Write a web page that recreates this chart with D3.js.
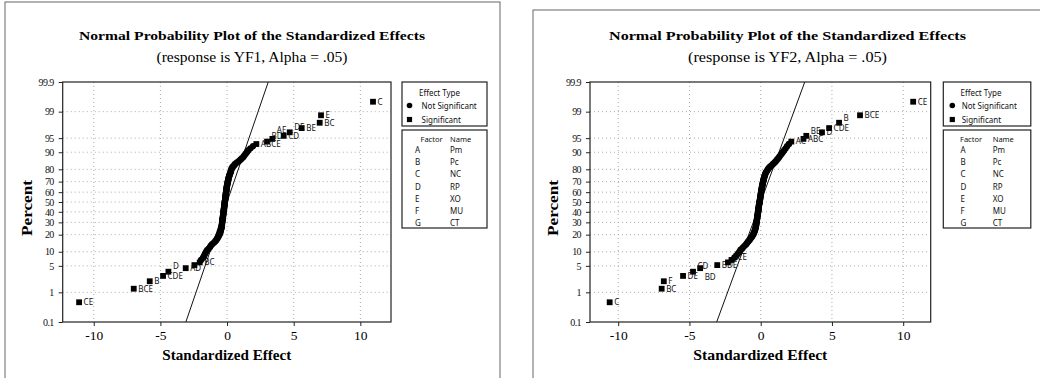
<!DOCTYPE html>
<html><head><meta charset="utf-8">
<script src="https://cdn.jsdelivr.net/npm/d3@7"></script>
<style>
html,body{margin:0;padding:0;background:#fff;}
svg{display:block;}
</style></head>
<body>
<svg id="chart" width="1040" height="378"></svg>
<script>
// ---------------- DATA ----------------
const percentTicks = [0.1, 1, 5, 10, 20, 30, 40, 50, 60, 70, 80, 90, 95, 99, 99.9];
const percentTickLabels = ["0.1","1","5","10","20","30","40","50","60","70","80","90","95","99","99.9"];
const effectTicks = [-10, -5, 0, 5, 10];

const factorCodes = ["A","B","C","D","E","F","G"];
const factorNames = ["Pm","Pc","NC","RP","XO","MU","CT"];

// YF1 – significant effects and their term labels
const sigYF1 = [-11.1, -7.0, -5.8, -4.8, -4.4, -3.1, -2.45, -2.05, 2.2, 3.0, 3.4, 4.25, 4.7, 5.6, 6.95, 7.05, 10.95];
const sigLabelsYF1 = ["CE","BCE","B","CDE","D","AD","","BC","ABCE","BD","AE","CD","DE","BE","BC","E","C"];
// YF1 – non-significant standardized effects
const nonSigYF1 = [
 -1.95,-1.8,-1.72,-1.65,-1.58,-1.5,-1.38,-1.28,-1.22,-1.12,-1.0,-0.9,-0.82,-0.76,-0.70,-0.66,-0.61,-0.57,-0.53,-0.51,-0.49,-0.47,-0.45,-0.43,-0.41,-0.40,
 -0.39,-0.385,-0.38,-0.37,-0.36,-0.355,-0.35,-0.34,-0.33,-0.32,-0.31,-0.30,-0.295,-0.29,-0.28,
 -0.27,-0.26,-0.255,-0.25,-0.24,-0.23,-0.225,-0.22,-0.21,-0.2,-0.195,-0.19,-0.18,-0.175,-0.17,-0.16,-0.15,
 -0.14,-0.135,-0.13,-0.12,-0.115,-0.11,-0.1,-0.09,-0.085,-0.08,-0.07,-0.06,-0.05,-0.045,-0.04,-0.03,-0.02,
 -0.01,0.0,0.01,0.03,0.04,0.05,0.07,0.08,0.1,0.11,0.13,0.15,0.17,0.19,0.22,
 0.25,0.28,0.3,0.32,0.35,
 0.4,0.47,0.55,0.62,
 0.75,0.88,1.0,1.1,
 1.22,1.3,1.4,1.5,1.6,
 1.75,1.95
];

// YF2 – significant effects and their term labels
const sigYF2 = [-10.6, -6.95, -6.8, -5.45, -4.75, -4.25, -3.05, -2.3, -2.05, 2.15, 3.0, 3.2, 4.3, 4.8, 5.5, 6.97, 10.7];
const sigLabelsYF2 = ["C","BC","F","DE","CD","BD","BDE","ACE","AE","AC","ABC","BE","D","CDE","B","BCE","CE"];
// YF2 – non-significant standardized effects
const nonSigYF2 = [
 -1.85,-1.72,-1.6,-1.5,-1.42,-1.32,-1.22,-1.12,-1.02,-0.95,-0.88,-0.8,-0.74,-0.68,-0.62,-0.57,-0.53,-0.49,-0.46,-0.43,-0.41,-0.39,-0.37,-0.35,-0.34,
 -0.33,-0.32,-0.31,-0.3,-0.29,-0.28,-0.27,-0.26,-0.255,-0.25,-0.24,-0.23,-0.22,-0.21,-0.2,
 -0.19,-0.185,-0.18,-0.17,-0.16,-0.155,-0.15,-0.14,-0.13,-0.125,-0.12,-0.11,-0.1,-0.09,-0.08,-0.07,-0.06,
 -0.05,-0.04,-0.035,-0.03,-0.02,-0.01,0.0,0.01,0.015,0.02,0.03,0.04,0.05,0.06,0.07,0.08,0.09,
 0.1,0.11,0.12,0.14,0.15,0.16,0.18,0.19,0.21,0.22,0.24,0.26,0.28,0.3,0.32,
 0.36,0.4,0.45,0.5,0.55,
 0.62,0.7,0.8,0.88,
 0.98,1.06,1.14,1.22,
 1.3,1.38,1.47,1.56,1.65,
 1.75,1.85,1.98
];

// ---------------- HELPERS ----------------
function probit(p){
  const a=[-3.969683028665376e+01,2.209460984245205e+02,-2.759285104469687e+02,1.383577518672690e+02,-3.066479806614716e+01,2.506628277459239e+00];
  const b=[-5.447609879822406e+01,1.615858368580409e+02,-1.556989798598866e+02,6.680131188771972e+01,-1.328068155922018e+01];
  const c=[-7.784894002430293e-03,-3.223964580411365e-01,-2.400758277161838e+00,-2.549732539343734e+00,4.374664141464968e+00,2.938163982698783e+00];
  const d=[7.784695709041462e-03,3.224671290700398e-01,2.445134137142996e+00,3.754408661907416e+00];
  const pl=0.02425, ph=1-pl; let q,r;
  if(p<pl){q=Math.sqrt(-2*Math.log(p));return (((((c[0]*q+c[1])*q+c[2])*q+c[3])*q+c[4])*q+c[5])/((((d[0]*q+d[1])*q+d[2])*q+d[3])*q+1);}
  if(p<=ph){q=p-0.5;r=q*q;return (((((a[0]*r+a[1])*r+a[2])*r+a[3])*r+a[4])*r+a[5])*q/(((((b[0]*r+b[1])*r+b[2])*r+b[3])*r+b[4])*r+1);}
  q=Math.sqrt(-2*Math.log(1-p));
  return -(((((c[0]*q+c[1])*q+c[2])*q+c[3])*q+c[4])*q+c[5])/((((d[0]*q+d[1])*q+d[2])*q+d[3])*q+1);
}

const svg = d3.select("#chart");
const SERIF = "'Liberation Serif','Times New Roman',serif";
const SANS = "'Noto Sans','DejaVu Sans',sans-serif";

function drawPanel(cfg){
  const g = svg.append("g");
  g.append("rect").attr("x",cfg.frame[0]).attr("y",cfg.frame[1]).attr("width",cfg.frame[2]).attr("height",cfg.frame[3])
    .attr("fill","none").attr("stroke","#666").attr("stroke-width",1);

  const x = d3.scaleLinear().domain(cfg.xDomain).range([cfg.left, cfg.right]);
  const zMax = probit(0.999);
  const y = d3.scaleLinear().domain([-zMax, zMax]).range([cfg.bottom, cfg.top]);

  g.append("text").attr("x",cfg.titleX).attr("y",40).attr("text-anchor","middle")
    .attr("font-family",SERIF).attr("font-weight","bold").attr("font-size",13.5)
    .attr("textLength",cfg.titleW).attr("lengthAdjust","spacingAndGlyphs")
    .text("Normal Probability Plot of the Standardized Effects");
  g.append("text").attr("x",cfg.titleX).attr("y",62).attr("text-anchor","middle")
    .attr("font-family",SERIF).attr("font-size",14)
    .attr("textLength",cfg.subW).attr("lengthAdjust","spacingAndGlyphs")
    .text(cfg.subtitle);

  const grid = g.append("g").attr("stroke","#aaa").attr("stroke-width",1).attr("stroke-dasharray","1,3");
  grid.selectAll("line.v").data(effectTicks).join("line")
    .attr("x1",d=>x(d)).attr("x2",d=>x(d)).attr("y1",cfg.top).attr("y2",cfg.bottom);
  grid.selectAll("line.h").data(percentTicks.slice(1,-1)).join("line")
    .attr("x1",cfg.left).attr("x2",cfg.right).attr("y1",d=>y(probit(d/100))).attr("y2",d=>y(probit(d/100)));

  const all = cfg.nonSig.map(v=>({v, sig:false, label:""}))
    .concat(cfg.sig.map((v,i)=>({v, sig:true, label:cfg.sigLabels[i]})));
  all.sort((a,b)=>a.v-b.v);
  const n = all.length;
  all.forEach((d,i)=>{ d.z = probit((i+1-0.375)/(n+0.25)); });

  const clipId = "clip"+cfg.id;
  svg.append("clipPath").attr("id",clipId).append("rect")
    .attr("x",cfg.left).attr("y",cfg.top).attr("width",cfg.right-cfg.left).attr("height",cfg.bottom-cfg.top);
  g.append("path").attr("clip-path",`url(#${clipId})`)
    .datum([-zMax, zMax])
    .attr("d", d3.line().x(z=>x(z)).y(z=>y(z)))
    .attr("stroke","#111").attr("stroke-width",1).attr("fill","none");

  const pts = g.append("g");
  pts.selectAll("circle").data(all.filter(d=>!d.sig)).join("circle")
    .attr("cx",d=>x(d.v)).attr("cy",d=>y(d.z)).attr("r",3.2).attr("fill","#000");
  const s = 5.8;
  pts.selectAll("rect").data(all.filter(d=>d.sig)).join("rect")
    .attr("x",d=>x(d.v)-s/2).attr("y",d=>y(d.z)-s/2).attr("width",s).attr("height",s).attr("fill","#000");

  // greedy label placement: right of marker, shifted vertically if it would collide
  const labelled = all.filter(d=>d.sig && d.label);
  const placed = [];
  const fs = 8;
  labelled.forEach(d=>{
    const lx = x(d.v)+4.5, cy = y(d.z);
    const w = d.label.length*5.3, h = 7;
    const offs = [0, 5, -5, 9, -9];
    let chosen = 0;
    for(const o of offs){
      const box = [lx, cy+o-h/2, lx+w, cy+o+h/2];
      const hit = placed.some(b=>!(box[2]<=b[0]||box[0]>=b[2]||box[3]<=b[1]||box[1]>=b[3]));
      if(!hit){chosen=o;break;}
      chosen = o;
    }
    placed.push([lx, cy+chosen-h/2, lx+w, cy+chosen+h/2]);
    d.lx = lx; d.ly = cy+chosen+2.8;
  });
  pts.selectAll("text").data(labelled).join("text")
    .attr("x",d=>d.lx).attr("y",d=>d.ly)
    .attr("font-family",SANS).attr("font-size",fs).attr("fill","#111")
    .text(d=>d.label);

  const yAxis = d3.axisLeft(y).tickValues(percentTicks.map(p=>probit(p/100)))
    .tickFormat((d,i)=>percentTickLabels[i]).tickSize(4).tickPadding(5);
  const ya = g.append("g").attr("transform",`translate(${cfg.left},0)`).call(yAxis);
  ya.selectAll("text").attr("font-family",SERIF).attr("font-size",10).attr("fill","#111").attr("letter-spacing","-0.6");
  const xAxis = d3.axisBottom(x).tickValues(effectTicks).tickSize(4).tickPadding(4).tickFormat(d=>String(d));
  const xa = g.append("g").attr("transform",`translate(0,${cfg.bottom})`).call(xAxis);
  xa.selectAll("text").attr("font-family",SERIF).attr("font-size",13.5).attr("fill","#000");
  [ya,xa].forEach(a=>{a.select(".domain").remove(); a.selectAll("line").attr("stroke","#222");});

  g.append("rect").attr("x",cfg.left).attr("y",cfg.top).attr("width",cfg.right-cfg.left).attr("height",cfg.bottom-cfg.top)
    .attr("fill","none").attr("stroke","#222").attr("stroke-width",1.2);

  g.append("text").attr("x",(cfg.left+cfg.right)/2).attr("y",360).attr("text-anchor","middle")
    .attr("font-family",SERIF).attr("font-weight","bold").attr("font-size",15)
    .attr("textLength",cfg.xTitleW).attr("lengthAdjust","spacingAndGlyphs")
    .text("Standardized Effect");
  g.append("text").attr("transform",`translate(${cfg.percentX},${(cfg.top+cfg.bottom)/2+6}) rotate(-90)`)
    .attr("text-anchor","middle").attr("dy","0.35em")
    .attr("font-family",SERIF).attr("font-weight","bold").attr("font-size",14)
    .attr("textLength",56).attr("lengthAdjust","spacingAndGlyphs")
    .text("Percent");

  const L = cfg.legend;
  const lg = g.append("g").attr("font-family",SANS).attr("font-size",8).attr("fill","#111");
  lg.append("rect").attr("x",L.x).attr("y",82).attr("width",L.w).attr("height",44)
    .attr("fill","#fff").attr("stroke","#222").attr("stroke-width",1.2);
  lg.append("text").attr("x",L.titleX).attr("y",95.5).attr("text-anchor","middle").text("Effect Type");
  lg.append("circle").attr("cx",L.markX).attr("cy",105.5).attr("r",2.8).attr("fill","#000");
  lg.append("text").attr("x",L.textX).attr("y",108.5).text("Not Significant");
  lg.append("rect").attr("x",L.markX-2.6).attr("y",119.5-2.6).attr("width",5.2).attr("height",5.2).attr("fill","#000");
  lg.append("text").attr("x",L.textX).attr("y",122.5).text("Significant");

  lg.append("rect").attr("x",L.x).attr("y",130).attr("width",L.w).attr("height",98)
    .attr("fill","#fff").attr("stroke","#222").attr("stroke-width",1.2);
  lg.append("text").attr("x",L.factorX).attr("y",142).attr("font-size",7.5).text("Factor");
  lg.append("text").attr("x",L.nameX).attr("y",142).attr("font-size",7.5).text("Name");
  lg.selectAll("text.code").data(factorCodes).join("text").attr("class","code")
    .attr("x",L.codeX).attr("y",(d,i)=>153+i*12.2).text(d=>d);
  lg.selectAll("text.fname").data(factorNames).join("text").attr("class","fname")
    .attr("x",L.nameX).attr("y",(d,i)=>153+i*12.2).text(d=>d);
}

drawPanel({
  id:"L", frame:[5,2,495,390],
  left:62.7, right:391, top:82, bottom:322, xDomain:[-12.33,12.3],
  titleX:252, titleW:346, subW:191, subtitle:"(response is YF1, Alpha = .05)",
  xTitleW:129, percentX:27,
  sig:sigYF1, sigLabels:sigLabelsYF1, nonSig:nonSigYF1,
  legend:{x:402, w:85, titleX:439.5, markX:409.5, textX:421.5, factorX:420.5, nameX:450, codeX:415}
});
drawPanel({
  id:"R", frame:[533,10,520,390],
  left:590, right:930.7, top:82, bottom:322, xDomain:[-11.98,11.93],
  titleX:787.5, titleW:357, subW:199, subtitle:"(response is YF2, Alpha = .05)",
  xTitleW:134, percentX:553,
  sig:sigYF2, sigLabels:sigLabelsYF2, nonSig:nonSigYF2,
  legend:{x:943.3, w:87.5, titleX:981, markX:952.3, textX:961.7, factorX:960, nameX:992.7, codeX:960.5}
});
</script>
</body></html>
